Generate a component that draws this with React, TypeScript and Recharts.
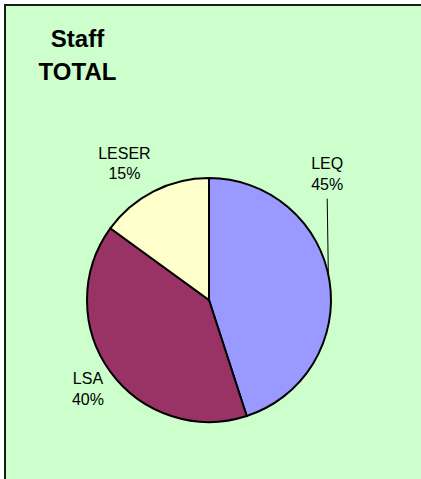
import { PieChart, Pie, Cell } from "recharts";

const categories = ["LEQ", "LSA", "LESER"];
const values = [45, 40, 15];
const colors = ["#9999FF", "#993366", "#FFFFCC"];

// where each label sits (angle in degrees, distance from centre), Excel-style
const LABEL_POS: Record<string, { angle: number; dist: number; leader?: number }> = {
  LEQ: { angle: 46.9, dist: 173, leader: 12 },
  LSA: { angle: 216.2, dist: 150 },
  LESER: { angle: 121.7, dist: 161 },
};

const data = categories.map((name, i) => ({ name, value: values[i] }));

const RAD = Math.PI / 180;

function renderLabel(props: any) {
  const { cx, cy, outerRadius, name, percent } = props;
  const pos = LABEL_POS[name];
  const x = cx + Math.cos(pos.angle * RAD) * pos.dist;
  const y = cy - Math.sin(pos.angle * RAD) * pos.dist;
  let leader = null;
  if (pos.leader !== undefined) {
    const ex = cx + Math.cos(pos.leader * RAD) * outerRadius;
    const ey = cy - Math.sin(pos.leader * RAD) * outerRadius;
    leader = <line x1={x} y1={y + 25} x2={ex} y2={ey} stroke="#000" strokeWidth={1} />;
  }
  return (
    <g>
      {leader}
      <text
        x={x}
        y={y}
        textAnchor="middle"
        fill="#000"
        style={{ fontFamily: "'Liberation Sans', Arial, sans-serif", fontSize: 16 }}
      >
        <tspan x={x} y={y - 4.5}>{name}</tspan>
        <tspan x={x} y={y + 16}>{`${Math.round(percent * 100)}%`}</tspan>
      </text>
    </g>
  );
}

export default function App() {
  return (
    <div style={{ position: "fixed", left: 0, top: 0, width: "100vw", height: "100vh", background: "#fff", overflow: "hidden" }}>
      <style>{"html,body{margin:0;overflow:hidden;background:#CCFFCC}"}</style>
      <div
        style={{
          position: "absolute",
          left: 4,
          top: 4,
          right: -10,
          bottom: -10,
          background: "#CCFFCC",
          borderTop: "2px solid #1a1a1a",
          borderLeft: "2px solid #1a1a1a",
        }}
      />
      <div
        style={{
          position: "absolute",
          left: 0,
          top: 22,
          width: 155,
          textAlign: "center",
          fontFamily: "'Liberation Sans', Arial, sans-serif",
          fontWeight: "bold",
          fontSize: 24,
          lineHeight: "33px",
          color: "#000",
        }}
      >
        Staff
        <br />
        TOTAL
      </div>
      <div style={{ position: "absolute", left: 0, top: 0 }}>
        <PieChart width={421} height={479} margin={{ top: 0, right: 0, bottom: 0, left: 0 }}>
          <Pie
            data={data}
            dataKey="value"
            nameKey="name"
            cx={209}
            cy={300}
            outerRadius={122}
            startAngle={90}
            endAngle={-270}
            stroke="#000"
            strokeWidth={2}
            label={renderLabel}
            labelLine={false}
            isAnimationActive={false}
          >
            {data.map((d, i) => (
              <Cell key={d.name} fill={colors[i]} />
            ))}
          </Pie>
        </PieChart>
      </div>
    </div>
  );
}
